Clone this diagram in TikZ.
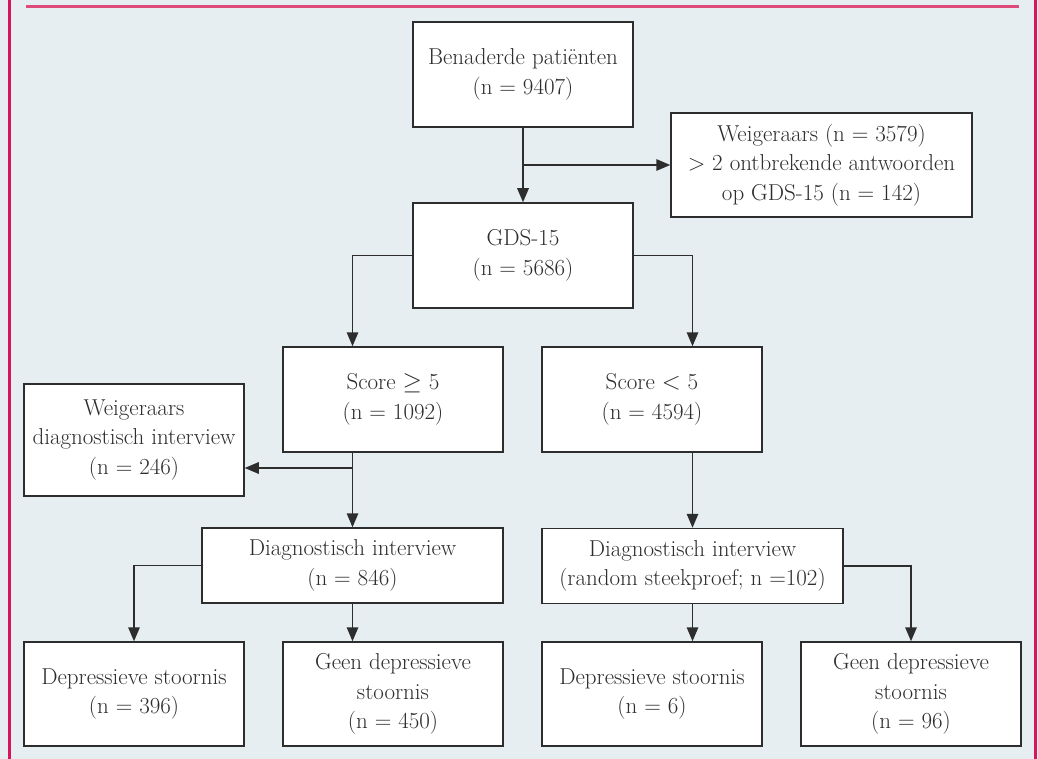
\documentclass[tikz,border=0pt]{standalone}
\usetikzlibrary{arrows.meta}
\definecolor{bgc}{RGB}{230,238,241}
\definecolor{redv}{RGB}{214,22,86}
\definecolor{redh}{RGB}{222,74,122}
\definecolor{ink}{RGB}{45,45,45}
\begin{document}
\begin{tikzpicture}[x=1pt,y=-1pt,
  box/.style={draw=ink,line width=1.5pt,fill=white,text=ink,inner sep=0pt,align=center,
    font=\fontsize{23}{29.5}\selectfont},
  arr/.style={draw=ink,line width=1.5pt,-{Triangle[length=14pt,width=11.5pt]}}]
\useasboundingbox (0,0) rectangle (1038,759);
\fill[bgc] (0,0) rectangle (1038,759);
\draw[redh,line width=2.2pt] (26,6.5) -- (1019,6.5);
\draw[redv,line width=3pt] (9.3,0) -- (9.3,759);
\draw[redv,line width=3pt] (1035.5,0) -- (1035.5,759);
% nodes
\node[box,minimum width=220pt,minimum height=105pt] (b1) at (523,74.5) {Benaderde patiënten\\(n = 9407)};
\node[box,minimum width=301pt,minimum height=104pt] (w1) at (821.5,165) {Weigeraars (n = 3579)\\> 2 ontbrekende antwoorden\\op GDS-15 (n = 142)};
\node[box,minimum width=220pt,minimum height=105pt] (gds) at (523,255.5) {GDS-15\\(n = 5686)};
\node[box,minimum width=220pt,minimum height=105pt] (s1) at (393,399.5) {Score $\geq$ 5\\(n = 1092)};
\node[box,minimum width=220pt,minimum height=105pt] (s2) at (652,399.5) {Score $<$ 5\\(n = 4594)};
\node[box,minimum width=220pt,minimum height=112pt] (w2) at (134,440) {Weigeraars\\diagnostisch interview\\(n = 246)};
\node[box,minimum width=301pt,minimum height=75pt] (d1) at (352.5,565.5) {Diagnostisch interview\\(n = 846)};
\node[box,minimum width=301pt,minimum height=75pt] (d2) at (692.5,566) {Diagnostisch interview\\(random steekproef; n =102)};
\node[box,minimum width=220pt,minimum height=104pt] (e1) at (134,694) {Depressieve stoornis\\(n = 396)};
\node[box,minimum width=220pt,minimum height=104pt] (e2) at (393,694) {Geen depressieve\\stoornis\\(n = 450)};
\node[box,minimum width=220pt,minimum height=104pt] (e3) at (652,694) {Depressieve stoornis\\(n = 6)};
\node[box,minimum width=220pt,minimum height=104pt] (e4) at (911,694) {Geen depressieve\\stoornis\\(n = 96)};
% connectors
\coordinate (j1) at (b1.south |- w1.west);
\coordinate (j2) at (d1.north |- 0,468);
\draw[arr] (b1.south) -- (gds.north);
\draw[arr] (j1) -- (w1.west);
\draw[arr] (gds.west) -| (d1.north |- s1.north);
\draw[arr] (gds.east) -| (d2.north |- s2.north);
\draw[arr] (d1.north |- s1.south) -- (d1.north);
\draw[arr] (j2) -- (j2 -| w2.east);
\draw[arr] (d2.north |- s2.south) -- (d2.north);
\draw[arr] (d1.west) -| (e1.north);
\draw[arr] (d1.south) -- (d1.south |- e2.north);
\draw[arr] (d2.south) -- (d2.south |- e3.north);
\draw[arr] (d2.east) -| (e4.north);
\end{tikzpicture}
\end{document}
